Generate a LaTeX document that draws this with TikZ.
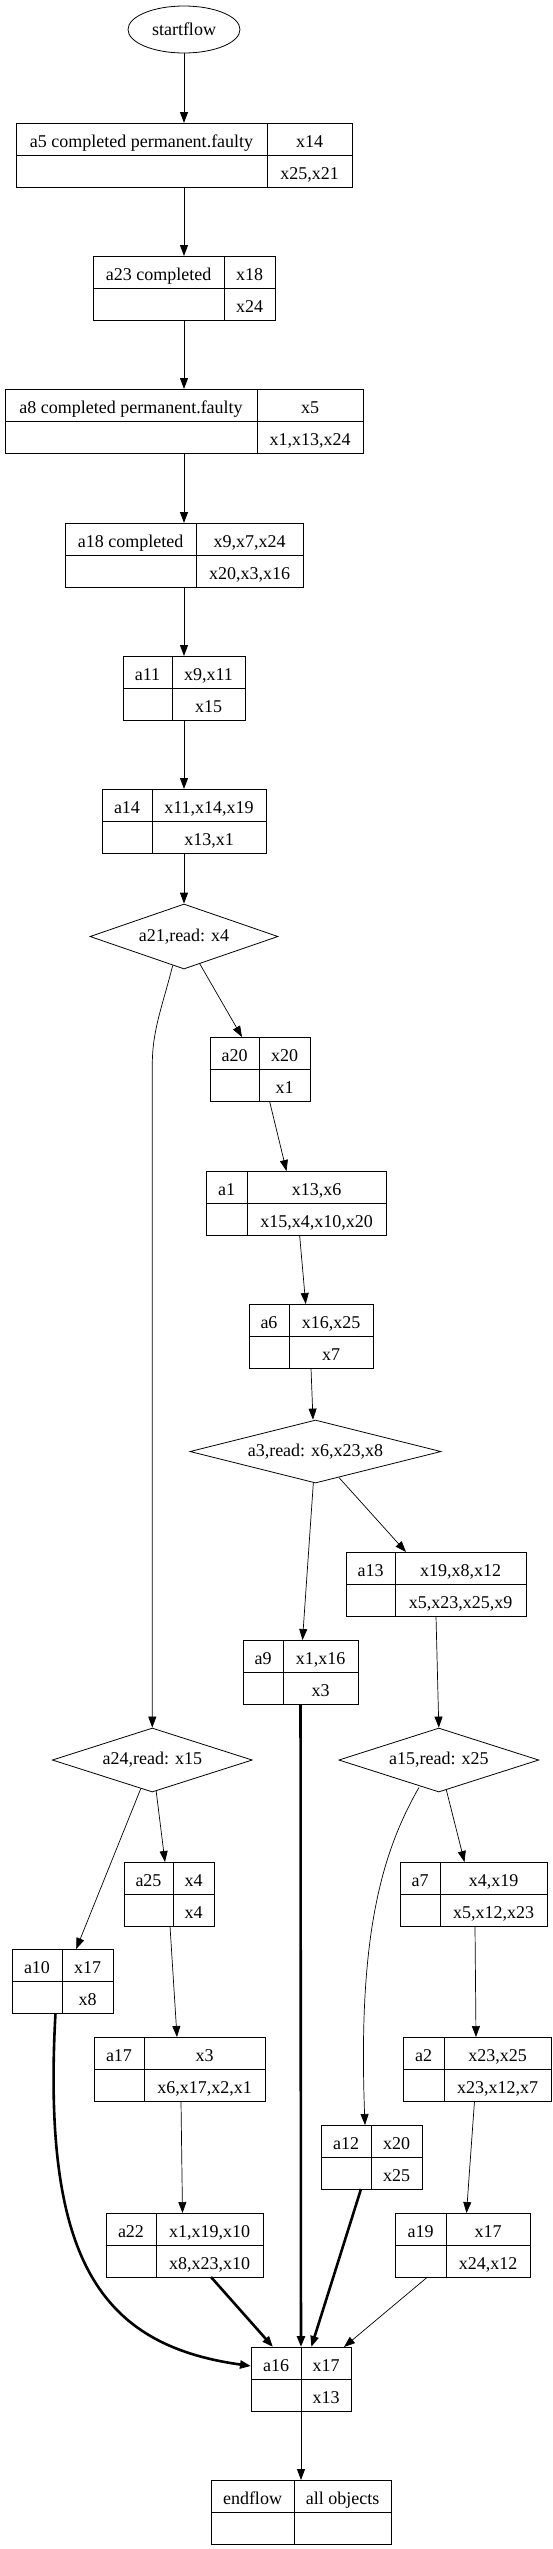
\documentclass[tikz,border=0pt]{standalone}
\usepackage{fontspec}
\setmainfont{Liberation Serif}
\usepackage{tikz}
\usetikzlibrary{positioning, arrows.meta, shapes.geometric, calc}
\tikzset{
  recbox/.style={draw, line width=0.9pt, minimum height=64pt, inner sep=0pt, outer sep=0pt},
  rectxt/.style={inner sep=0pt, text height=16pt, text depth=0pt, font=\fontsize{18}{20}\selectfont},
  readbox/.style={draw, diamond, aspect=3, line width=0.8pt, inner sep=0pt,
    font=\fontsize{18}{20}\selectfont},
  startbox/.style={draw, ellipse, line width=0.8pt, inner sep=0pt, minimum width=112pt,
    minimum height=47pt, font=\fontsize{18}{20}\selectfont},
  flowedge/.style={->, line width=1pt},
  thinedge/.style={->, line width=0.7pt},
  boldedge/.style={->, line width=2.6pt},
}
% record: name, left, divider, right, top, label, upper, lower
\newcommand{\recnode}[8]{%
  \node[recbox, minimum width={#4pt-#2pt}, anchor=north west] (#1) at (#2,#5) {};
  \draw[line width=0.9pt] (#1.west) -- (#1.east);
  \draw[line width=0.9pt] (#3,#5) -- (#3,{#5+64});
  \node[rectxt] (#1-l) at ({(#2+#3)/2},{#5+16}) {#6};
  \node[rectxt] (#1-u) at ({(#3+#4)/2},{#5+16}) {#7};
  \node[rectxt] (#1-d) at ({(#3+#4)/2},{#5+48}) {#8};
}

\begin{document}
\begin{tikzpicture}[x=1pt, y=-1pt, >={Triangle[length=11pt, width=8pt]}]
  \useasboundingbox (0,0) rectangle (553,2549);

  \node[startbox] (start) at (184,29.5) {startflow};
  \recnode{a5}{16}{267}{352}{123}{a5 completed permanent.faulty}{x14}{x25,x21}
  \recnode{a23}{93}{224}{275}{256}{a23 completed}{x18}{x24}
  \recnode{a8}{5}{257}{363}{389}{a8 completed permanent.faulty}{x5}{x1,x13,x24}
  \recnode{a18}{65}{196}{303}{523}{a18 completed}{x9,x7,x24}{x20,x3,x16}
  \recnode{a11}{123}{172}{245}{656}{a11}{x9,x11}{x15}
  \recnode{a14}{102}{152}{266}{789}{a14}{x11,x14,x19}{x13,x1}
  \node[readbox, minimum width=188pt, minimum height=65pt] (a21) at (184,936.5) {a21,read: x4};
  \recnode{a20}{210}{259}{310}{1037}{a20}{x20}{x1}
  \recnode{a1}{206}{247}{386}{1171}{a1}{x13,x6}{x15,x4,x10,x20}
  \recnode{a6}{249}{289}{373}{1304}{a6}{x16,x25}{x7}
  \node[readbox, minimum width=251pt, minimum height=63pt] (a3) at (315.5,1451.5) {a3,read: x6,x23,x8};
  \recnode{a13}{346}{395}{526}{1552}{a13}{x19,x8,x12}{x5,x23,x25,x9}
  \recnode{a9}{243}{283}{358}{1640}{a9}{x1,x16}{x3}
  \node[readbox, minimum width=200pt, minimum height=64pt] (a24) at (152.3,1760) {a24,read: x15};
  \node[readbox, minimum width=200pt, minimum height=64pt] (a15) at (438.8,1760) {a15,read: x25};
  \recnode{a25}{124}{173}{214}{1862}{a25}{x4}{x4}
  \recnode{a10}{12}{62}{113}{1949}{a10}{x17}{x8}
  \recnode{a17}{94}{144}{265}{2037}{a17}{x3}{x6,x17,x2,x1}
  \recnode{a22}{106}{156}{263}{2213}{a22}{x1,x19,x10}{x8,x23,x10}
  \recnode{a7}{400}{440}{547}{1862}{a7}{x4,x19}{x5,x12,x23}
  \recnode{a2}{403}{444}{551}{2037}{a2}{x23,x25}{x23,x12,x7}
  \recnode{a12}{321}{371}{422}{2125}{a12}{x20}{x25}
  \recnode{a19}{395}{446}{530}{2213}{a19}{x17}{x24,x12}
  \recnode{a16}{251}{301}{351}{2347}{a16}{x17}{x13}
  \recnode{endflow}{211}{294}{391}{2480}{endflow}{all objects}{}

  \draw[flowedge] (start) -- (a5);
  \draw[flowedge] (a5) -- (a23);
  \draw[flowedge] (a23) -- (a8);
  \draw[flowedge] (a8) -- (a18);
  \draw[flowedge] (a18) -- (a11);
  \draw[flowedge] (a11) -- (a14);
  \draw[flowedge] (a14) -- (a21);
  \draw[thinedge] (a21) -- ([xshift=-18pt]a20.north);
  \draw[thinedge] ([xshift=-11.3pt,yshift=4pt]a21.south) .. controls +(-10,40) and +(0,-35)
    .. ([yshift=663pt]a24.north) -- (a24.north);
  \draw[thinedge] ([xshift=9.5pt]a20.south) -- ([xshift=-9.5pt]a1.north);
  \draw[thinedge] ([xshift=3.6pt]a1.south) -- ([xshift=-5.3pt]a6.north);
  \draw[thinedge] (a6.south) -- ([xshift=-2.5pt]a3.north);
  \draw[thinedge] (a3) -- ([xshift=2pt]a9.north);
  \draw[thinedge] (a3) -- ([xshift=-30pt]a13.north);
  \draw[thinedge] (a13.south) -- (a15.north);
  \draw[thinedge] (a24) -- ([xshift=-4pt]a25.north);
  \draw[thinedge] (a24) -- ([xshift=13.7pt]a10.north);
  \draw[thinedge] (a15) -- ([xshift=-9pt]a7.north);
  \draw[thinedge] ([xshift=-19.8pt,yshift=5pt]a15.south) .. controls +(-39,68) and +(-7,-185)
    .. ([xshift=-6.5pt]a12.north);
  \draw[thinedge] ([xshift=1pt]a25.south) -- ([xshift=-2.5pt]a17.north);
  \draw[thinedge] ([xshift=1.5pt]a7.south) -- ([xshift=-1pt]a2.north);
  \draw[thinedge] ([xshift=1.5pt]a17.south) -- ([xshift=-2pt]a22.north);
  \draw[thinedge] ([xshift=-2.5pt]a2.south) -- ([xshift=4pt]a19.north);
  \draw[boldedge] ([xshift=-7pt]a10.south) .. controls +(-13.7,247) and +(-150.7,-21)
    .. ([yshift=13pt]a16.west);
  \draw[boldedge] (a9) -- (a16);
  \draw[boldedge] ([xshift=-10.5pt]a12.south) -- ([xshift=10.3pt]a16.north);
  \draw[boldedge] ([xshift=26.5pt]a22.south) -- ([xshift=-28pt]a16.north);
  \draw[thinedge] ([xshift=-35pt]a19.south) -- ([xshift=43pt]a16.north);
  \draw[flowedge] (a16) -- (endflow);
\end{tikzpicture}
\end{document}
